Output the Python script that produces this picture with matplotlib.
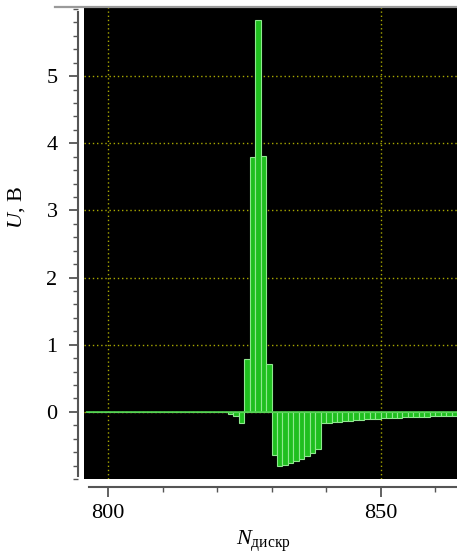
import numpy as np
import matplotlib
matplotlib.use('Agg')
import matplotlib.pyplot as plt
from matplotlib.lines import Line2D
from matplotlib.ticker import MultipleLocator

plt.rcParams['font.family'] = ['Liberation Serif', 'DejaVu Serif']
plt.rcParams['mathtext.fontset'] = 'custom'
plt.rcParams['mathtext.rm'] = 'Liberation Serif'
plt.rcParams['mathtext.it'] = 'Liberation Serif:italic'

# sample numbers (first bar starts at 796) and voltage per sample, V
first_sample = 796
voltage = [
    0.0, 0.0, 0.0, 0.0, 0.0, 0.0, 0.0, 0.0, 0.0, 0.0,
    0.0, 0.0, 0.0, 0.0, 0.0, 0.0, 0.0, 0.0, 0.0, 0.0,
    0.0, 0.0, 0.0, 0.0, 0.0, 0.0,
    -0.03, -0.06, -0.16,
    0.79, 3.79, 5.83, 3.81, 0.72,
    -0.64, -0.81, -0.79, -0.76, -0.73, -0.70, -0.66, -0.62, -0.56,
    -0.17, -0.16, -0.155, -0.145, -0.14, -0.13, -0.125, -0.12, -0.11, -0.105,
    -0.10, -0.095, -0.09, -0.088, -0.085, -0.082, -0.078, -0.075, -0.072, -0.07,
    -0.067, -0.065, -0.062, -0.06, -0.058,
]
samples = first_sample + np.arange(len(voltage))

x_ticks = [800, 850]
y_ticks = [0, 1, 2, 3, 4, 5]

W, H = 457, 553
fig = plt.figure(figsize=(W / 100, H / 100), dpi=100)
ax = fig.add_axes([84 / W, (H - 479) / H, (W - 84) / W, (479 - 7) / H])
ax.set_facecolor('black')

ax.bar(samples, voltage, width=1.0, align='edge', color='#1fbf1f',
       edgecolor='#8fe88f', linewidth=0.8, zorder=3)
ax.hlines(0, samples[0], samples[-1] + 1, color='#4fd04f', lw=1.2, zorder=4)

ax.set_xlim(795.6, 864.0)
ax.set_ylim(-1.0, 6.03)

ax.set_xticks(x_ticks)
ax.set_yticks(y_ticks)
ax.xaxis.set_minor_locator(MultipleLocator(10))
ax.yaxis.set_minor_locator(MultipleLocator(0.2))
ax.grid(True, which='major', color='#a8a800', linestyle=(0, (1, 2)), lw=1.0)
ax.set_axisbelow(True)

for side in ['top', 'right']:
    ax.spines[side].set_visible(False)
ax.spines['left'].set_position(('outward', 4))
ax.spines['bottom'].set_position(('outward', 6))
ax.spines['left'].set_bounds(-0.95, 5.95)
ax.spines['bottom'].set_bounds(796.5, 864.0)
for side in ['left', 'bottom']:
    ax.spines[side].set_color('#555555')
    ax.spines[side].set_linewidth(1.5)

ax.tick_params(which='major', length=7, width=1.3, color='#555555', labelsize=16)
ax.tick_params(which='minor', length=3.5, width=1.0, color='#555555')
ax.tick_params(axis='y', which='major', length=6.5, pad=8.5)
ax.tick_params(axis='y', which='minor', length=3.5)
ax.tick_params(axis='x', which='major', pad=5)

ax.set_ylabel(r'$U$, В', fontsize=16)
ax.yaxis.set_label_coords(-57 / (W - 84), (479 - 208) / (479 - 7))
ax.set_xlabel(r'$N_{\mathrm{дискр}}$', fontsize=16)
ax.xaxis.set_label_coords((263 - 84) / (W - 84), -(545 - 479) / (479 - 7))
ax.xaxis.label.set_va('baseline')

fig.add_artist(Line2D([55 / W, 1.0], [(H - 7) / H, (H - 7) / H],
                      color='#9a9a9a', lw=1.6))

fig.savefig('out.png', dpi=100)
